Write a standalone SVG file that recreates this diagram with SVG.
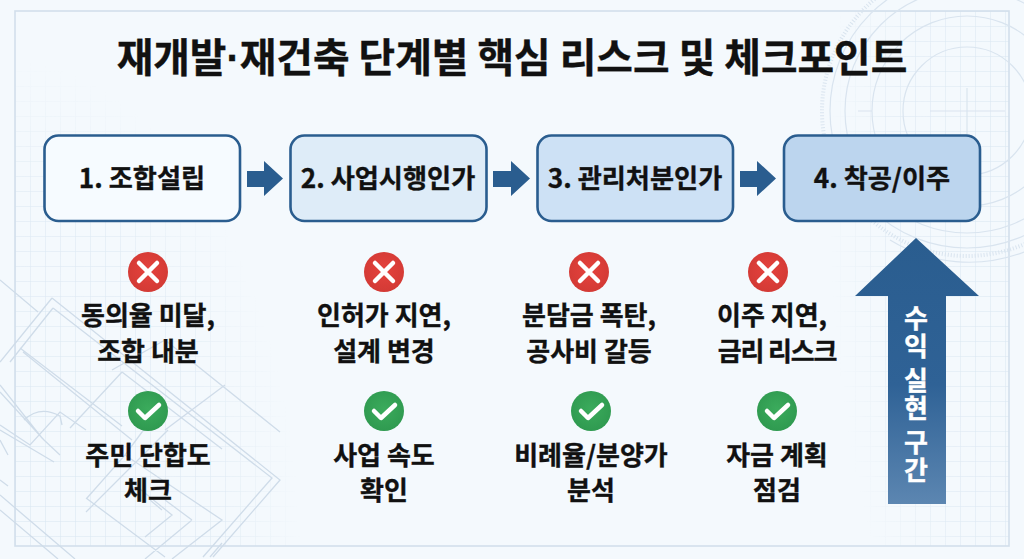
<svg xmlns="http://www.w3.org/2000/svg" width="1024" height="559" viewBox="0 0 1024 559">
<style>
text{font-family:"Noto Sans CJK KR","Noto Sans",sans-serif;font-weight:700;fill:#111;stroke:#111;stroke-width:.35;text-anchor:middle}
.t{font-size:26px}
.b{font-size:26.2px}
.box{stroke:#2a5d8f;stroke-width:2.6}
.flow{fill:#2a5d8f}
.x{stroke:#fff;stroke-width:4.5;stroke-linecap:round;fill:none}
.c{stroke:#fff;stroke-width:4.5;stroke-linecap:round;stroke-linejoin:round;fill:none}
.plan{fill:none;stroke:#cfdce9;stroke-width:1.3}
.arc{fill:none;stroke:#d9e4ef;stroke-width:1.2}
</style>
<defs>
<pattern id="g" width="15" height="15" patternUnits="userSpaceOnUse" x="15" y="11"><path d="M15 0H0V15" fill="none" stroke="#d5e3f0" stroke-width="1"/></pattern>
<radialGradient id="fl" cx="0" cy="1" r="1"><stop offset="0" stop-color="#fff"/><stop offset=".75" stop-color="#fff" stop-opacity=".8"/><stop offset="1" stop-color="#fff" stop-opacity="0"/></radialGradient>
<radialGradient id="fr" cx="1" cy=".35" r="1"><stop offset="0" stop-color="#fff"/><stop offset=".7" stop-color="#fff" stop-opacity=".8"/><stop offset="1" stop-color="#fff" stop-opacity="0"/></radialGradient>
<mask id="m" maskUnits="userSpaceOnUse" x="0" y="0" width="1024" height="559">
<rect x="0" y="60" width="300" height="499" fill="url(#fl)"/>
<rect x="830" y="0" width="194" height="559" fill="url(#fr)"/>
</mask>
<linearGradient id="up" x1="0" y1="0" x2="0" y2="1"><stop offset="0" stop-color="#2a5d8f"/><stop offset=".55" stop-color="#2f6296"/><stop offset="1" stop-color="#5c86b1"/></linearGradient>
<radialGradient id="red" cx=".5" cy=".45" r=".55"><stop offset="0" stop-color="#e5423d"/><stop offset="1" stop-color="#d33a35"/></radialGradient>
<radialGradient id="grn" cx=".5" cy=".45" r=".55"><stop offset="0" stop-color="#3bab5c"/><stop offset="1" stop-color="#2f9a50"/></radialGradient>
<g id="xi"><circle r="20" fill="url(#red)"/><path class="x" d="M-9-9 9 9M9-9-9 9"/></g>
<g id="ci"><circle r="20" fill="url(#grn)"/><path class="c" d="M-10 0-3 7 11-6"/></g>
</defs>
<g id="background">
<rect width="1024" height="559" fill="#f4f9fd"/>
<rect x="15" y="11" width="994" height="535" fill="url(#g)" mask="url(#m)"/>
<rect x="15" y="11" width="994" height="535" fill="none" stroke="#d3dfeb" stroke-width="1.6"/>
<path class="plan" d="M52 298 280 480 213 557M53 308 272 478 203 557M52 298 0 362M53 308 10 362M0 280 38 312M20 348 122 426M23 352 132 440M0 385 42 438M0 392 44 440M44 440 60 455M122 372 70 428M165 430 225 385M122 372 222 449M112 370 165 340 280 432M24 420Q40 405 60 416L62 425M54 462 0 430M86 430 60 412 30 445 0 425M168 430 86 512M87 498 125 455 222 520 172 559M86 498 165 557M125 455 162 405M0 495 75 559M0 510 58 559M145 537 172 515 135 485M0 440 8 455M0 480 8 486M192 520 165 500M192 520 145 559M150 500 162 510M210 557 222 543"/>
<g class="arc"><circle cx="967" cy="111" r="64"/><circle cx="967" cy="111" r="95"/><circle cx="967" cy="111" r="122"/><circle cx="967" cy="111" r="137"/><path d="M890 240A152 152 0 0 0 1024 252M930 111H1005M967 88V135M858 111H872"/></g>
<circle cx="967" cy="111" r="145" fill="none" stroke="#d9e4ef" stroke-width="4" stroke-dasharray="1 2"/>
</g>
<text x="512" y="72" style="font-size:39.800px">재개발<tspan style="font-family:'Liberation Sans',sans-serif">·</tspan>재건축 단계별 핵심 리스크 및 체크포인트</text>
<g id="connectors">
<path class="flow" d="M247 171H264V161L283 178.500 264 196V187H247Z"/>
<path class="flow" d="M493 171H511V161L530 178.500 511 196V187H493Z"/>
<path class="flow" d="M740 171H757V161L776 178.500 757 196V187H740Z"/>
</g>
<g id="node1"><rect class="box" x="44.500" y="135.500" width="195.500" height="85.500" rx="14" fill="#f6fbff"/><text class="b" x="142" y="188">1. 조합설립</text></g>
<g id="node2"><rect class="box" x="290.500" y="135.500" width="196" height="85.500" rx="14" fill="#deecf8"/><text class="b" x="388" y="188">2. 사업시행인가</text></g>
<g id="node3"><rect class="box" x="537.500" y="135.500" width="195.500" height="85.500" rx="14" fill="#cde1f5"/><text class="b" x="635" y="188">3. 관리처분인가</text></g>
<g id="node4"><rect class="box" x="784" y="135.500" width="196" height="85.500" rx="14" fill="#bcd5ee"/><text class="b" x="882" y="188">4. 착공/이주</text></g>
<g id="col1"><use href="#xi" x="148" y="272"/><text class="t" x="148" y="325">동의율 미달,</text><text class="t" x="148" y="361">조합 내분</text><use href="#ci" x="148" y="411"/><text class="t" x="148" y="465">주민 단합도</text><text class="t" x="148" y="500">체크</text></g>
<g id="col2"><use href="#xi" x="384" y="272"/><text class="t" x="384" y="325">인허가 지연,</text><text class="t" x="384" y="361">설계 변경</text><use href="#ci" x="384" y="411"/><text class="t" x="384" y="465">사업 속도</text><text class="t" x="384" y="500">확인</text></g>
<g id="col3"><use href="#xi" x="589" y="272"/><text class="t" x="589" y="325">분담금 폭탄,</text><text class="t" x="589" y="361">공사비 갈등</text><use href="#ci" x="591" y="411"/><text class="t" x="591" y="465">비례율/분양가</text><text class="t" x="591" y="500">분석</text></g>
<g id="col4"><use href="#xi" x="768" y="272"/><text class="t" x="772" y="325">이주 지연,</text><text class="t" x="777" y="361" style="letter-spacing:-1.200px">금리 리스크</text><use href="#ci" x="777" y="411"/><text class="t" x="777" y="465">자금 계획</text><text class="t" x="777" y="500">점검</text></g>
<g id="profit-arrow"><path d="M916 238 979 296H946V504H888V296H855Z" fill="url(#up)"/>
<text x="916" y="305" style="font-size:26px;fill:#fff;stroke:#fff;writing-mode:vertical-rl;text-orientation:upright;text-anchor:start;letter-spacing:2px;word-spacing:-22px">수익 실현 구간</text></g>
</svg>
